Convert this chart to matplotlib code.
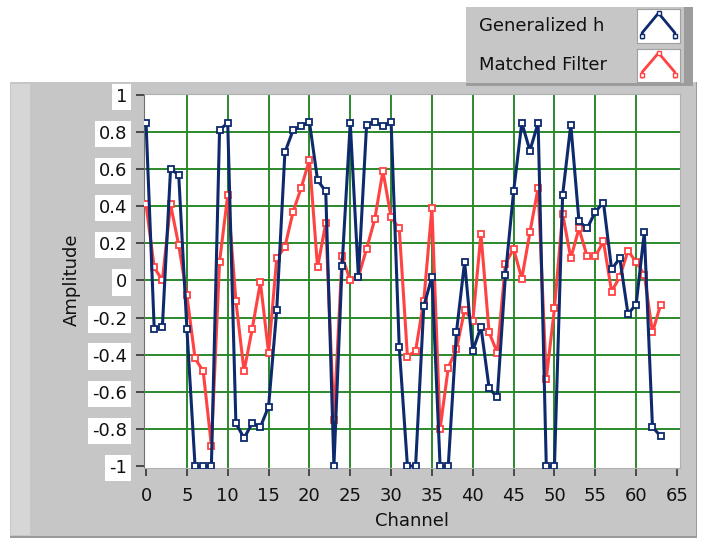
import numpy as np
import matplotlib.pyplot as plt
from matplotlib.patches import Rectangle

# values, one per channel 0..63
channels = np.arange(64)
generalized_h = [0.85, -0.26, -0.25, 0.60, 0.57, -0.26, -1.0, -1.0, -1.0, 0.81,
                 0.85, -0.77, -0.85, -0.77, -0.79, -0.68, -0.16, 0.69, 0.81, 0.83,
                 0.855, 0.54, 0.48, -1.0, 0.08, 0.85, 0.02, 0.84, 0.855, 0.83,
                 0.855, -0.36, -1.0, -1.0, -0.14, 0.02, -1.0, -1.0, -0.28, 0.10,
                 -0.38, -0.25, -0.58, -0.63, 0.03, 0.48, 0.85, 0.70, 0.85, -1.0,
                 -1.0, 0.46, 0.84, 0.32, 0.28, 0.37, 0.42, 0.06, 0.12, -0.18,
                 -0.13, 0.26, -0.79, -0.84]
matched_filter = [0.41, 0.07, 0.0, 0.41, 0.19, -0.08, -0.42, -0.49, -0.89, 0.10,
                  0.46, -0.11, -0.49, -0.26, -0.01, -0.39, 0.12, 0.18, 0.37, 0.50,
                  0.65, 0.07, 0.31, -0.75, 0.13, 0.0, 0.02, 0.17, 0.33, 0.59,
                  0.34, 0.28, -0.41, -0.38, -0.11, 0.39, -0.80, -0.47, -0.37, -0.16,
                  -0.22, 0.25, -0.28, -0.39, 0.09, 0.17, 0.01, 0.26, 0.50, -0.53,
                  -0.15, 0.36, 0.12, 0.28, 0.13, 0.13, 0.21, -0.06, 0.02, 0.16,
                  0.10, 0.03, -0.28, -0.13]
series_names = ["Generalized h", "Matched Filter"]

x_ticks = list(range(0, 70, 5))
y_ticks = [1, 0.8, 0.6, 0.4, 0.2, 0, -0.2, -0.4, -0.6, -0.8, -1]
y_tick_labels = ["1", "0.8", "0.6", "0.4", "0.2", "0", "-0.2", "-0.4", "-0.6", "-0.8", "-1"]

W, H = 701, 540
BLUE = "#0c2a6c"
RED = "#ff4343"
PANEL = "#c6c6c6"
GRID = "#2a8a2a"

plt.rcParams['font.family'] = ['DejaVu Sans']
fig = plt.figure(figsize=(W / 100, H / 100), dpi=100)
fig.patch.set_facecolor("white")


def box(x0, y0, x1, y1):
    # pixel box (top-left origin) -> figure fraction [left, bottom, width, height]
    return [x0 / W, 1 - y1 / H, (x1 - x0) / W, (y1 - y0) / H]


def rect(x0, y0, x1, y1, color, z):
    l, b, w, h = box(x0, y0, x1, y1)
    fig.patches.append(Rectangle((l, b), w, h, transform=fig.transFigure,
                                 facecolor=color, edgecolor="none", zorder=z))


# main grey panel with its light left strip and darker bottom edge
rect(10, 82, 697, 538, "#9a9a9a", -10)
rect(10, 82, 696, 536, PANEL, -9)
rect(11, 84, 30, 535, "#d6d6d6", -8)

# legend panel with shadow
rect(466, 7, 693, 86, "#9c9c9c", -7)
rect(466, 7, 684, 83, PANEL, -6)

# plot area
ax = fig.add_axes(box(144, 94, 680, 468))
ax.set_facecolor("white")
ax.plot(channels, matched_filter, color=RED, lw=2.2, marker="s", ms=4.5,
        mfc="white", mec=RED, mew=1.3, zorder=3)
ax.plot(channels, generalized_h, color=BLUE, lw=2.2, marker="s", ms=4.5,
        mfc="white", mec=BLUE, mew=1.3, zorder=4)

ax.set_xlim(-0.25, 65.37)
ax.set_ylim(-1.011, 1.005)
ax.set_xticks(x_ticks)
ax.set_yticks(y_ticks)
ax.set_yticklabels(y_tick_labels)

for v in x_ticks[1:-1]:
    ax.axvline(v, color=GRID, lw=1.4, zorder=1)
for v in y_ticks[1:-1]:
    ax.axhline(v, color=GRID, lw=1.4, zorder=1)

for side in ["top", "right", "bottom"]:
    ax.spines[side].set_color("#b0b0b0")
ax.spines["left"].set_color("#707070")
ax.tick_params(axis="both", direction="out", length=6, width=1.2, color="#333333",
               labelsize=13, labelcolor="#111111")
ax.tick_params(axis="y", pad=6)
ax.tick_params(axis="x", pad=8)
for lbl in ax.get_yticklabels():
    lbl.set_bbox(dict(facecolor="white", edgecolor="none", pad=3))

fig.text(72 / W, 1 - 280 / H, "Amplitude", rotation=90, ha="center", va="center",
         fontsize=13, color="#111111")
fig.text(412 / W, 1 - 521 / H, "Channel", ha="center", va="center",
         fontsize=13, color="#111111")

# legend entries
icon_rows = [(9, 43), (49, 82)]
for name, color, (y0, y1) in zip(series_names, [BLUE, RED], icon_rows):
    fig.text(479 / W, 1 - (y0 + y1) / 2 / H, name, ha="left", va="center",
             fontsize=13, color="#111111", zorder=5)
    iax = fig.add_axes(box(637, y0, 680, y1), zorder=5)
    iax.set_facecolor("white")
    iax.plot([0.12, 0.12, 0.5, 0.88, 0.88], [0.15, 0.3, 0.88, 0.3, 0.15],
             color=color, lw=2)
    iax.plot([0.12, 0.5, 0.88], [0.2, 0.88, 0.2], ls="none", marker="s", ms=3,
             mfc="white", mec=color, mew=1)
    iax.set_xlim(0, 1)
    iax.set_ylim(0, 1)
    iax.set_xticks([])
    iax.set_yticks([])
    for s in iax.spines.values():
        s.set_color("#a0a0a0")

fig.savefig("out.png", dpi=100)
